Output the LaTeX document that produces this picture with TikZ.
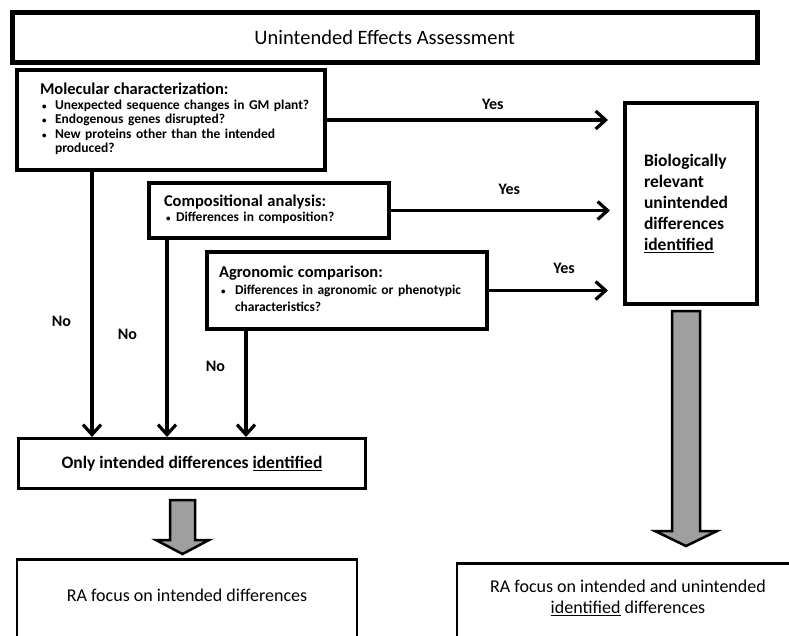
\documentclass[tikz,border=0pt]{standalone}
\usepackage{fontspec}
\setmainfont{Carlito}
\usetikzlibrary{arrows.meta,calc}

\newcommand{\qdot}{\hspace{2pt}{\fontsize{9}{9}\selectfont\textbullet}}
\newcommand{\qhead}{\fontsize{16.5}{20}\selectfont}
% grey block arrow: start, tip, half shaft, half head, head length
\newcommand{\greyarrow}[5]{%
  \draw[fat] ($(#1)+(-#3,0)$) -- ($(#2)+(-#3,-#5)$) -- ($(#2)+(-#4,-#5)$) -- (#2)
    -- ($(#2)+(#4,-#5)$) -- ($(#2)+(#3,-#5)$) -- ($(#1)+(#3,0)$) -- cycle;}

\begin{document}
\begin{tikzpicture}[
x=1pt, y=-1pt,
box/.style={rectangle, draw=black, line width=4pt, anchor=north west, inner xsep=0pt},
qbox/.style={box, align=left, font=\fontsize{13.5}{14.5}\selectfont\bfseries},
result/.style={rectangle, draw=black, line width=3pt, font=\fontsize{17.5}{21}\selectfont\bfseries},
ra/.style={rectangle, draw=black, line width=2.7pt, anchor=north, inner ysep=0pt, text depth=80pt, align=center, font=\fontsize{18}{21}\selectfont},
arr/.style={line width=3.2pt, -{Straight Barb[length=10pt, width=18pt]}},
fat/.style={draw=black, fill=gray!75, line width=2.5pt, line join=miter},
answer/.style={font=\fontsize{16}{18}\selectfont\bfseries},
]
\useasboundingbox (0,0) rectangle (789,635);
\clip (0,0) rectangle (789,635);

\node[box, line width=4.5pt, minimum width=745pt, minimum height=50pt, font=\fontsize{20.5}{24}\selectfont] (title) at (10,10) {Unintended Effects Assessment};

\node[qbox, minimum width=308pt, minimum height=100pt, text width=262pt] (mol) at (15,68) {%
\begin{tabular}{@{}p{15pt}@{}l@{}}
\multicolumn{2}{@{}l@{}}{\qhead Molecular characterization:}\\
\qdot & Unexpected sequence changes in GM plant?\\
\qdot & Endogenous genes disrupted?\\
\qdot & New proteins other than the intended\\
 & produced?
\end{tabular}};

\node[qbox, minimum width=240pt, minimum height=55pt, text width=210pt] (comp) at (147,181) {%
\begin{tabular}{@{}p{12pt}@{}l@{}}
\multicolumn{2}{@{}l@{}}{\qhead Compositional analysis:}\\[1pt]
\qdot & Differences in composition?
\end{tabular}};

\node[qbox, minimum width=280pt, minimum height=77pt, text width=256pt] (agro) at (205,250) {%
\begin{tabular}{@{}p{16pt}@{}l@{}}
\multicolumn{2}{@{}l@{}}{\qhead Agronomic comparison:}\\[3pt]
\qdot & Differences in agronomic or phenotypic\\[2pt]
 & characteristics?
\end{tabular}};

\node[box, align=left, text width=94pt, minimum width=132pt, minimum height=201pt, font=\fontsize{17.5}{21}\selectfont\bfseries] (bio) at (623,101)
  {Biologically\\ relevant\\ unintended\\ differences\\ \underline{identified}};

\node[result, anchor=north west, minimum width=347pt, minimum height=50pt] (only) at (17,437) {Only intended differences \underline{identified}};

\node[ra, minimum width=340pt, text height=42pt] (ra1) at (187,558) {RA focus on intended differences};
\node[ra, minimum width=342pt, text height=50pt] (ra2) at (628,562) {RA focus on intended and unintended\\ \underline{identified} differences};

% yes branches
\draw[arr, shorten >=15pt] (mol.east) -- (mol.east -| bio.west) node[answer, pos=0.56, above=5pt] {Yes};
\draw[arr, shorten >=13pt] (comp.east) -- (comp.east -| bio.west) node[answer, pos=0.51, above=11pt] {Yes};
\draw[arr, shorten >=15pt] (agro.east) -- (agro.east -| bio.west) node[answer, pos=0.56, above=12pt] {Yes};

% no branches
\draw[arr] ([xshift=77pt]mol.south west) -- ([xshift=75pt]only.north west) node[answer, pos=0.565, left=16pt] {No};
\draw[arr] ([xshift=20pt]comp.south west) -- ([xshift=150pt]only.north west) node[answer, pos=0.48, left=25pt] {No};
\draw[arr] ([xshift=41pt]agro.south west) -- ([xshift=229pt]only.north west) node[answer, pos=0.33, left=16pt] {No};

\coordinate (g1s) at ($(only.south)+(-9.5,10)$);
\coordinate (g1e) at ($(only.south)+(-9.5,64)$);
\coordinate (g2s) at ($(bio.south)+(-5,5)$);
\coordinate (g2e) at ($(bio.south)+(-5,240)$);
\greyarrow{g1s}{g1e}{12.5}{26.5}{14}
\greyarrow{g2s}{g2e}{14}{31}{15}
\end{tikzpicture}
\end{document}
